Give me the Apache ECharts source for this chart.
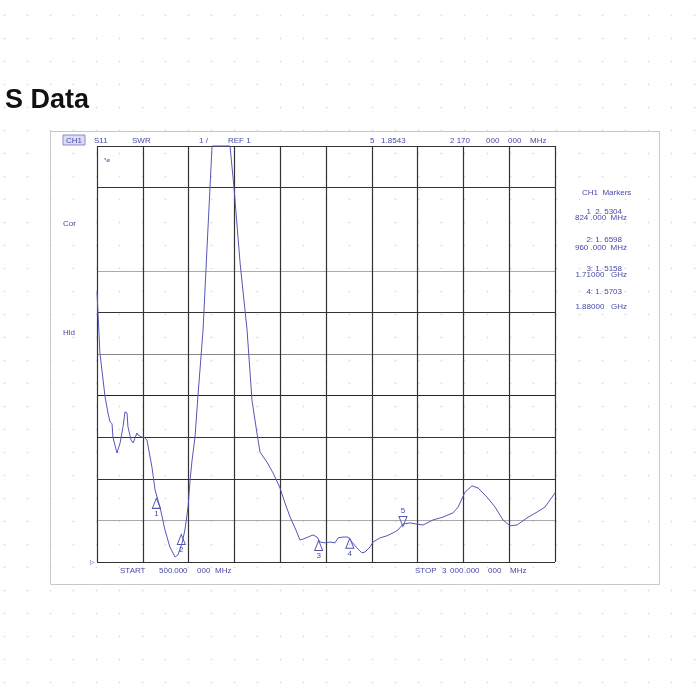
<!DOCTYPE html>
<html>
<head>
<meta charset="utf-8">
<script src="https://cdn.jsdelivr.net/npm/echarts@6/dist/echarts.min.js"></script>
<style>
  html,body{margin:0;padding:0;background:#fff;}
  #main{
    width:700px;height:700px;
    background-image:radial-gradient(circle, #dedede 0.7px, transparent 1.2px);
    background-size:23px 23px;
    background-position:-7px 4px;
  }
</style>
</head>
<body>
<div id="main"></div>
<script>
// S11 SWR trace (MHz / SWR)
const freq=[500,516,544,560,571,582,587,609,626,642,653,664,669,686,697,718,724,746,757,773,
  800,817,828,844,871,898,926,942,964,980,997,1008,1019,1035,1051,1079,1100,1128,1226,1248,
  1281,1319,1346,1373,1390,1428,1461,1499,1526,1554,1581,1608,1625,1652,1679,1701,1717,1745,1772,1799,
  1816,1843,1870,1892,1919,1946,1963,1990,2007,2045,2083,2116,2143,2170,2208,2247,2280,2334,2389,2443,
  2471,2509,2547,2580,2629,2673,2716,2754,2793,2847,2902,2945,3000];
const swr=[7.49,6.02,4.97,4.58,4.37,4.32,4.00,3.62,3.86,4.25,4.61,4.58,4.25,3.93,3.86,4.10,4.05,4.00,4.00,3.93,
  3.28,2.73,2.56,2.32,1.77,1.36,1.12,1.17,1.45,1.77,2.32,2.97,3.45,4.00,4.99,6.58,8.50,11,11,9.99,
  8.19,6.58,4.89,4.10,3.64,3.40,3.14,2.78,2.42,2.08,1.82,1.53,1.55,1.60,1.65,1.60,1.48,1.46,1.48,1.46,
  1.58,1.60,1.60,1.48,1.34,1.22,1.24,1.36,1.48,1.58,1.63,1.70,1.77,1.91,1.94,1.91,1.89,2.01,2.08,2.18,
  2.32,2.68,2.83,2.78,2.56,2.32,2.01,1.87,1.89,2.06,2.20,2.32,2.66];

// markers
const markerNo=['1','2','3','4','5'];
const markerFreq=[824,960,1710,1880,2170];
const markerSwr=[2.5304,1.6598,1.5158,1.5703,1.8543];
const markerFreqText=['824 .000  MHz','960 .000  MHz','1.71000   GHz','1.88000   GHz'];

const blue='#4848a8';
const trace='#5656b6';

let chart=echarts.init(document.getElementById('main'));

function txt(x,y,s,o){
  o=o||{};
  return {
    type:'text',x:x,y:y,silent:true,
    style:{
      text:s,
      font:o.font||'8px "Liberation Sans"',
      fill:o.fill||blue,
      align:o.align||'left',textAlign:o.align||'left',
      verticalAlign:'middle',textVerticalAlign:'middle'
    }
  };
}

let graphics=[
  {type:'rect',silent:true,shape:{x:50.5,y:131.5,width:609,height:453},
    style:{fill:'none',stroke:'#c8c8c8',lineWidth:1}},
  {type:'text',x:5,y:114,silent:true,
    style:{text:'S Data',font:'bold 27px "Liberation Sans"',fill:'#111',
      align:'left',textAlign:'left',verticalAlign:'bottom',textVerticalAlign:'bottom'}},
  {type:'rect',silent:true,shape:{x:63,y:135,width:22,height:10},
    style:{fill:'#dcdcf2',stroke:'#8a8ac8',lineWidth:1}},
  txt(66,140.5,'CH1'),
  txt(94,140.5,'S11'),
  txt(132,140.5,'SWR'),
  txt(199,140.5,'1 /'),
  txt(228,140.5,'REF 1'),
  txt(370,140.5,'5   1.8543'),
  txt(450,140.5,'2 170'),
  txt(486,140.5,'000'),
  txt(508,140.5,'000'),
  txt(530,140.5,'MHz'),
  txt(104,160,'*ø',{font:'6px "Liberation Sans"'}),
  txt(63,224,'Cor'),
  txt(63,333,'Hld'),
  txt(90,562,'▷',{font:'6px "DejaVu Sans"'}),
  txt(120,571,'START'),
  txt(159,571,'500'),
  txt(172,571,'.000'),
  txt(197,571,'000'),
  txt(215,571,'MHz'),
  txt(415,571,'STOP'),
  txt(442,571,'3'),
  txt(450,571,'000'),
  txt(464,571,'.000'),
  txt(488,571,'000'),
  txt(510,571,'MHz'),
  txt(582,193,'CH1  Markers')
];
// marker panel on the right
const rowY=[[212,218],[240,248],[269,275],[292,307]];
for(let i=0;i<4;i++){
  let sep=i===0?'  ':': ';
  graphics.push(txt(622,rowY[i][0],markerNo[i]+sep+markerSwr[i].toFixed(4).replace('.', '. '),{align:'right'}));
  graphics.push(txt(627,rowY[i][1],markerFreqText[i],{align:'right'}));
}

// grid line colours bottom -> top (the 9 line is missing on the screen)
const hLines=['#333','#aaa','#333','#333','#222','#888','#333','#aaa','rgba(0,0,0,0)','#333','#333'];

let option={
  animation:false,
  grid:{left:97,top:146,width:458,height:416,show:false},
  xAxis:{
    type:'value',min:500,max:3000,interval:250,
    axisLabel:{show:false},axisTick:{show:false},axisLine:{show:false},
    splitLine:{show:true,lineStyle:{color:'#333',width:1.2}}
  },
  yAxis:{
    type:'value',min:1,max:11,interval:1,
    axisLabel:{show:false},axisTick:{show:false},axisLine:{show:false},
    splitLine:{show:true,lineStyle:{color:hLines,width:1.2}}
  },
  series:[{
    type:'line',
    data:freq.map((f,i)=>[f,swr[i]]),
    showSymbol:false,
    clip:false,
    lineStyle:{color:trace,width:1},
    markPoint:{
      silent:true,
      data:markerFreq.map((f,i)=>{
        let down=i===4;
        return {
          coord:[f,markerSwr[i]],
          symbol:'path://M5,0 L10,11 L0,11 Z',
          symbolSize:[8,10],
          symbolRotate:down?180:0,
          symbolOffset:[0,down?-5:5],
          itemStyle:{color:'rgba(0,0,0,0)',borderColor:trace,borderWidth:1},
          label:{show:true,formatter:markerNo[i],position:down?'top':'bottom',distance:1,
            color:blue,fontSize:8,fontFamily:'Liberation Sans'}
        };
      })
    }
  }],
  graphic:graphics
};
chart.setOption(option);
</script>
</body>
</html>
